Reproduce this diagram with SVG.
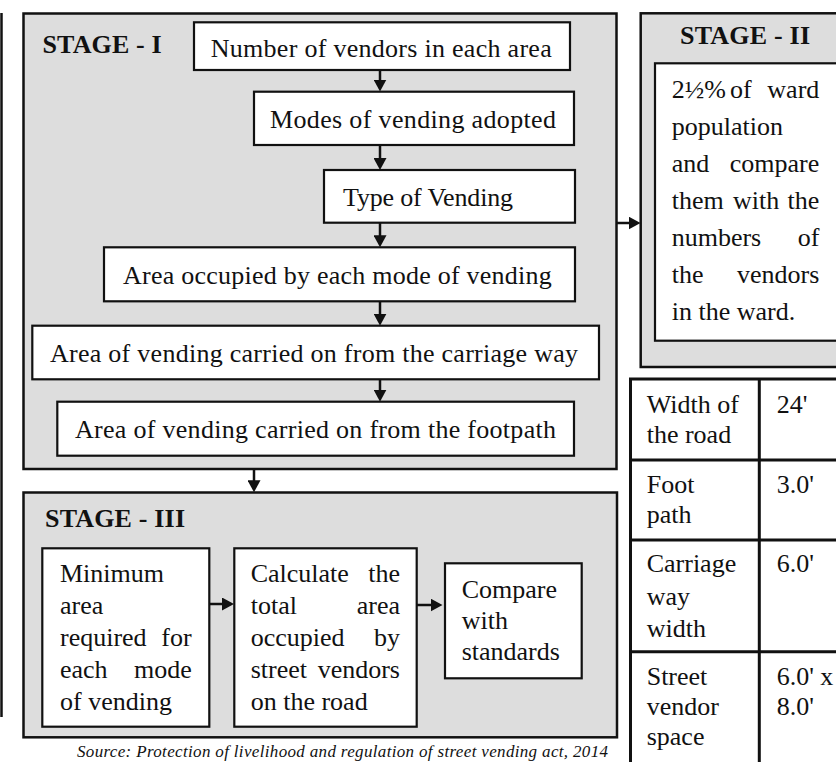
<svg xmlns="http://www.w3.org/2000/svg" width="836" height="762" viewBox="0 0 836 762">
<style>
.t{font-family:"Liberation Serif","Times New Roman",serif;font-size:26px;fill:#111}
.h{font-weight:bold}
.e{text-anchor:end}
.src{font-family:"Liberation Serif","Times New Roman",serif;font-size:17px;font-style:italic;fill:#111}
.stage{fill:#dddddd;stroke:#111;stroke-width:2.5}
.box{fill:#fff;stroke:#111;stroke-width:2.2}
.grid{fill:none;stroke:#111;stroke-width:3}
.conn{stroke:#111;stroke-width:2.5;fill:none;marker-end:url(#ah)}
</style>
<defs>
<marker id="ah" viewBox="0 0 12 13" refX="6" refY="6.5" markerWidth="12" markerHeight="13" markerUnits="userSpaceOnUse" orient="auto">
<path d="M0,0 L12,6.5 L0,13 z" fill="#111"/>
</marker>
</defs>
<rect width="836" height="762" fill="#fff"/>
<line x1="1.5" y1="13" x2="1.5" y2="717" stroke="#111" stroke-width="2.5"/>

<g id="stage1">
<rect class="stage" x="23.5" y="13.5" width="593" height="455.5"/>
<text class="t h" x="42.5" y="53" textLength="119">STAGE - I</text>
</g>
<g id="n1">
<rect class="box" x="194" y="22.3" width="376" height="47.7"/>
<text class="t" x="210.7" y="57" textLength="341">Number of vendors in each area</text>
</g>
<g id="n2">
<rect class="box" x="254" y="91.7" width="320" height="53.3"/>
<text class="t" x="270" y="128" textLength="286">Modes of vending adopted</text>
</g>
<g id="n3">
<rect class="box" x="324" y="170" width="251" height="52.7"/>
<text class="t" x="343" y="205.5" textLength="170">Type of Vending</text>
</g>
<g id="n4">
<rect class="box" x="104" y="247.3" width="471" height="54"/>
<text class="t" x="123" y="283.5" textLength="428.7">Area occupied by each mode of vending</text>
</g>
<g id="n5">
<rect class="box" x="32.3" y="325.7" width="566.7" height="53.6"/>
<text class="t" x="50" y="361.5" textLength="528">Area of vending carried on from the carriage way</text>
</g>
<g id="n6">
<rect class="box" x="57.3" y="401.7" width="516.7" height="54"/>
<text class="t" x="75" y="437.5" textLength="481">Area of vending carried on from the footpath</text>
</g>

<g id="stage2">
<rect class="stage" x="640.7" y="13.3" width="210" height="353.7"/>
<text class="t h" x="680" y="44" textLength="130">STAGE - II</text>
<rect class="box" x="655" y="63.3" width="190" height="277.4"/>
<text class="t" x="671.7" y="98">2½%</text>
<text class="t" x="730" y="98">of</text>
<text class="t e" x="819.3" y="98">ward</text>
<text class="t" x="671.7" y="135">population</text>
<text class="t" x="671.7" y="172">and</text>
<text class="t e" x="819.3" y="172">compare</text>
<text class="t" x="671.7" y="209">them</text>
<text class="t" x="733" y="209">with</text>
<text class="t e" x="819.3" y="209">the</text>
<text class="t" x="671.7" y="246">numbers</text>
<text class="t e" x="819.3" y="246">of</text>
<text class="t" x="671.7" y="283">the</text>
<text class="t e" x="819.3" y="283">vendors</text>
<text class="t" x="671.7" y="320">in the ward.</text>
</g>

<g id="stage3">
<rect class="stage" x="23.5" y="492.5" width="593.5" height="244.8"/>
<text class="t h" x="45" y="527" textLength="140">STAGE - III</text>
</g>
<g id="n7">
<rect class="box" x="42.3" y="548.3" width="167" height="178.4"/>
<text class="t" x="60" y="581.5">Minimum</text>
<text class="t" x="60" y="613.5">area</text>
<text class="t" x="60" y="645.5">required</text>
<text class="t e" x="191.7" y="645.5">for</text>
<text class="t" x="60" y="677.5">each</text>
<text class="t e" x="191.7" y="677.5">mode</text>
<text class="t" x="60" y="709.5">of vending</text>
</g>
<g id="n8">
<rect class="box" x="234.3" y="548.3" width="182.4" height="178.4"/>
<text class="t" x="250.7" y="581.5">Calculate</text>
<text class="t e" x="400" y="581.5">the</text>
<text class="t" x="250.7" y="613.5">total</text>
<text class="t e" x="400" y="613.5">area</text>
<text class="t" x="250.7" y="645.5">occupied</text>
<text class="t e" x="400" y="645.5">by</text>
<text class="t" x="250.7" y="677.5">street</text>
<text class="t e" x="400" y="677.5">vendors</text>
<text class="t" x="250.7" y="709.5">on the road</text>
</g>
<g id="n9">
<rect class="box" x="445" y="563.3" width="136.7" height="115"/>
<text class="t" x="461.7" y="598">Compare</text>
<text class="t" x="461.7" y="629">with</text>
<text class="t" x="461.7" y="660">standards</text>
</g>

<g id="table">
<path class="grid" d="M850,379 H630.5 V770 M759.3,379 V770 M630.5,460 H850 M630.5,540 H850 M630.5,651.7 H850"/>
<text class="t" x="646.7" y="413">Width of</text>
<text class="t" x="646.7" y="443">the road</text>
<text class="t" x="776.7" y="413">24'</text>
<text class="t" x="646.7" y="493">Foot</text>
<text class="t" x="646.7" y="523">path</text>
<text class="t" x="776.7" y="493">3.0'</text>
<text class="t" x="646.7" y="572">Carriage</text>
<text class="t" x="646.7" y="604.5">way</text>
<text class="t" x="646.7" y="637">width</text>
<text class="t" x="776.7" y="572">6.0'</text>
<text class="t" x="646.7" y="685">Street</text>
<text class="t" x="646.7" y="715">vendor</text>
<text class="t" x="646.7" y="745">space</text>
<text class="t" x="776.7" y="685">6.0' x</text>
<text class="t" x="776.7" y="715">8.0'</text>
</g>

<g id="connectors">
<line class="conn" x1="380" y1="70" x2="380" y2="85.5"/>
<line class="conn" x1="380" y1="145" x2="380" y2="164"/>
<line class="conn" x1="380" y1="222.7" x2="380" y2="241.3"/>
<line class="conn" x1="380" y1="301.3" x2="380" y2="319.7"/>
<line class="conn" x1="380" y1="379.3" x2="380" y2="395.7"/>
<line class="conn" x1="254" y1="469" x2="254" y2="486.3"/>
<line class="conn" x1="616.7" y1="223" x2="634.5" y2="223"/>
<line class="conn" x1="209.3" y1="604" x2="228" y2="604"/>
<line class="conn" x1="416.7" y1="605" x2="436.5" y2="605"/>
</g>

<text class="src" x="77" y="757" textLength="531">Source: Protection of livelihood and regulation of street vending act, 2014</text>
</svg>
